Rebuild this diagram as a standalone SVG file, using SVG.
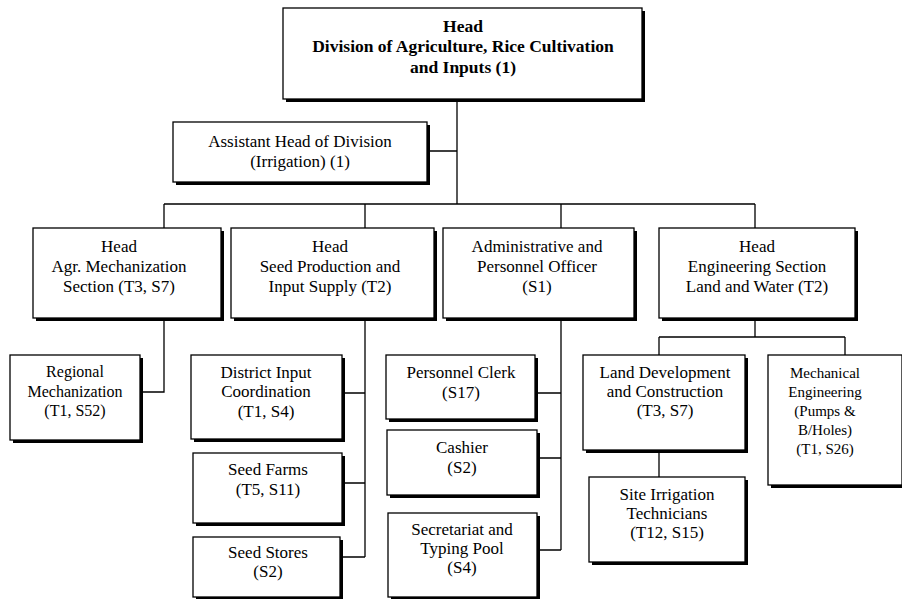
<svg xmlns="http://www.w3.org/2000/svg" width="902" height="599" viewBox="0 0 902 599">
<style>
  .box { fill: #ffffff; stroke: #000000; stroke-width: 1.3; }
  .shadow { fill: #000000; }
  .conn { fill: none; stroke: #000000; stroke-width: 1.3; }
  text { font-family: "Liberation Serif", "Times New Roman", serif; font-size: 17px; fill: #000000; text-anchor: middle; }
  .bold { font-weight: bold; font-size: 17.5px; }
  .small { font-size: 15px; }
  .mid { font-size: 16px; }
</style>
<rect x="0" y="0" width="902" height="599" fill="#ffffff"/>
<g id="connectors">
  <path class="conn" d="M457,99 V204 M427,151 H457 M164,204 H755 M164,204 V228 M365,204 V228 M561,204 V228 M755,204 V228"/>
  <path class="conn" d="M164,318 V392 H140"/>
  <path class="conn" d="M365,318 V557 M342,393 H365 M342,483 H365 M340,557 H365"/>
  <path class="conn" d="M561,318 V550 M535,393 H561 M537,458 H561 M537,550 H561"/>
  <path class="conn" d="M755,318 V337 M659,337 H845 M659,337 V355 M845,337 V355 M659,450 V477"/>
</g>
<g id="head">
  <rect class="shadow" x="286" y="11" width="359" height="91"/>
  <rect class="box" x="283" y="8" width="359" height="91"/>
  <text class="bold" x="463" y="32">Head</text>
  <text class="bold" x="463" y="52">Division of Agriculture, Rice Cultivation</text>
  <text class="bold" x="463" y="73">and Inputs (1)</text>
</g>
<g id="assistant">
  <rect class="shadow" x="176" y="125" width="254" height="60"/>
  <rect class="box" x="173" y="122" width="254" height="60"/>
  <text x="300" y="147">Assistant Head of Division</text>
  <text x="300" y="167">(Irrigation) (1)</text>
</g>
<g id="agr-mech">
  <rect class="shadow" x="36" y="231" width="188" height="90"/>
  <rect class="box" x="33" y="228" width="188" height="90"/>
  <text x="119" y="252">Head</text>
  <text x="119" y="272">Agr. Mechanization</text>
  <text x="119" y="292">Section (T3, S7)</text>
</g>
<g id="seed-prod">
  <rect class="shadow" x="234" y="231" width="203" height="90"/>
  <rect class="box" x="231" y="228" width="203" height="90"/>
  <text x="330" y="252">Head</text>
  <text x="330" y="272">Seed Production and</text>
  <text x="330" y="292">Input Supply (T2)</text>
</g>
<g id="admin">
  <rect class="shadow" x="446" y="231" width="191" height="90"/>
  <rect class="box" x="443" y="228" width="191" height="90"/>
  <text x="537" y="252">Administrative and</text>
  <text x="537" y="272">Personnel Officer</text>
  <text x="537" y="292">(S1)</text>
</g>
<g id="engineering">
  <rect class="shadow" x="662" y="231" width="196" height="90"/>
  <rect class="box" x="659" y="228" width="196" height="90"/>
  <text x="757" y="252">Head</text>
  <text x="757" y="272">Engineering Section</text>
  <text x="757" y="292">Land and Water (T2)</text>
</g>
<g id="regional">
  <rect class="shadow" x="13" y="358" width="130" height="85"/>
  <rect class="box" x="10" y="355" width="130" height="85"/>
  <text class="mid" x="75" y="377">Regional</text>
  <text class="mid" x="75" y="397">Mechanization</text>
  <text class="mid" x="75" y="416">(T1, S52)</text>
</g>
<g id="district">
  <rect class="shadow" x="194" y="358" width="151" height="84"/>
  <rect class="box" x="191" y="355" width="151" height="84"/>
  <text x="266" y="378">District Input</text>
  <text x="266" y="397">Coordination</text>
  <text x="266" y="417">(T1, S4)</text>
</g>
<g id="seed-farms">
  <rect class="shadow" x="196" y="456" width="149" height="70"/>
  <rect class="box" x="193" y="453" width="149" height="70"/>
  <text x="268" y="475">Seed Farms</text>
  <text x="268" y="495">(T5, S11)</text>
</g>
<g id="seed-stores">
  <rect class="shadow" x="196" y="540" width="147" height="60"/>
  <rect class="box" x="193" y="537" width="147" height="60"/>
  <text x="268" y="558">Seed Stores</text>
  <text x="268" y="577">(S2)</text>
</g>
<g id="personnel-clerk">
  <rect class="shadow" x="389" y="358" width="149" height="64"/>
  <rect class="box" x="386" y="355" width="149" height="64"/>
  <text x="461" y="378">Personnel Clerk</text>
  <text x="461" y="398">(S17)</text>
</g>
<g id="cashier">
  <rect class="shadow" x="390" y="433" width="150" height="65"/>
  <rect class="box" x="387" y="430" width="150" height="65"/>
  <text x="462" y="453">Cashier</text>
  <text x="462" y="473">(S2)</text>
</g>
<g id="secretariat">
  <rect class="shadow" x="391" y="516" width="149" height="84"/>
  <rect class="box" x="388" y="513" width="149" height="84"/>
  <text x="462" y="535">Secretariat and</text>
  <text x="462" y="554">Typing Pool</text>
  <text x="462" y="573">(S4)</text>
</g>
<g id="land-dev">
  <rect class="shadow" x="586" y="358" width="162" height="95"/>
  <rect class="box" x="583" y="355" width="162" height="95"/>
  <text x="665" y="378">Land Development</text>
  <text x="665" y="397">and Construction</text>
  <text x="665" y="416">(T3, S7)</text>
</g>
<g id="site-irrigation">
  <rect class="shadow" x="592" y="480" width="156" height="85"/>
  <rect class="box" x="589" y="477" width="156" height="85"/>
  <text x="667" y="500">Site Irrigation</text>
  <text x="667" y="519">Technicians</text>
  <text x="667" y="538">(T12, S15)</text>
</g>
<g id="mech-eng">
  <rect class="shadow" x="771" y="358" width="134" height="130"/>
  <rect class="box" x="768" y="355" width="134" height="130"/>
  <text class="small" x="825" y="378">Mechanical</text>
  <text class="small" x="825" y="397">Engineering</text>
  <text class="small" x="825" y="416">(Pumps &amp;</text>
  <text class="small" x="825" y="435">B/Holes)</text>
  <text class="small" x="825" y="454">(T1, S26)</text>
</g>
</svg>
